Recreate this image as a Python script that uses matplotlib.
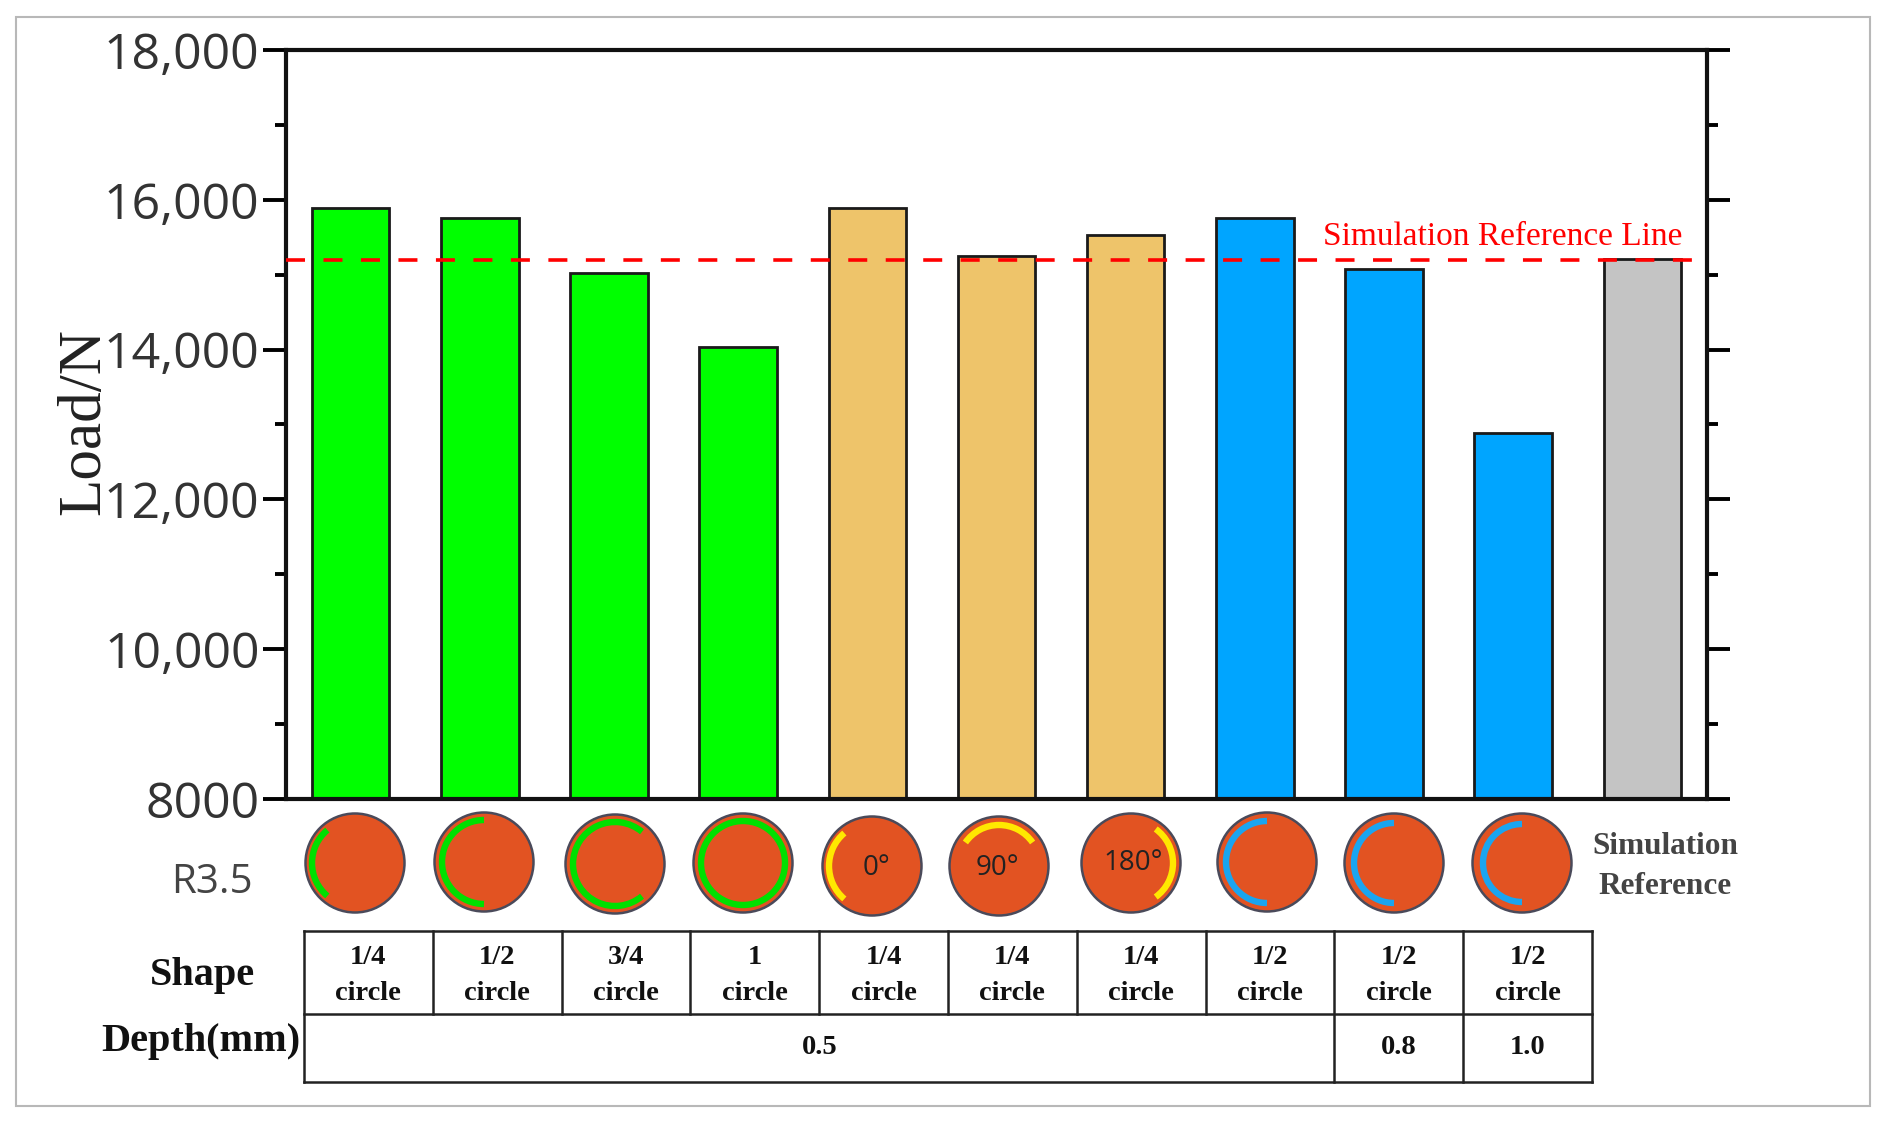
import matplotlib
matplotlib.use("Agg")
import matplotlib.pyplot as plt
from matplotlib.patches import Arc, Circle, Rectangle

# bar values
green_loads = [15890, 15760, 15025, 14035]
tan_loads = [15890, 15245, 15530]
blue_loads = [15760, 15070, 12880]
grey_loads = [15210]
loads = green_loads + tan_loads + blue_loads + grey_loads
bar_colors = ["#00FF00"] * 4 + ["#EEC46A"] * 3 + ["#00A5FF"] * 3 + ["#C4C4C4"]
reference_load = 15200

y_ticks = [8000, 10000, 12000, 14000, 16000, 18000]
y_labels = ["8000", "10,000", "12,000", "14,000", "16,000", "18,000"]
y_minor = [9000, 11000, 13000, 15000, 17000]

shape_top = ["1/4", "1/2", "3/4", "1", "1/4", "1/4", "1/4", "1/2", "1/2", "1/2"]
depths = ["0.5", "0.8", "1.0"]

# icons: centre x, centre y, arc radius, arc start, arc end, colour, label
icon_x = [355, 484, 615, 743, 872, 999, 1131, 1267, 1394, 1522]
icon_y = [863, 862, 864, 863, 866, 866, 863, 862, 863, 863]
arc_start = [130, 90, 50, 0, 130, 35, -54, 90, 90, 90]
arc_end = [230, 270, 310, 360, 230, 145, 54, 270, 270, 270]
arc_radius = [43, 42, 42, 42, 43, 41, 42, 41, 40, 39]
arc_colors = ["#00E000"] * 4 + ["#FFE800"] * 3 + ["#1AA5F0"] * 3
icon_labels = ["", "", "", "", "0°", "90°", "180°", "", "", ""]
icon_label_dx = [0, 0, 0, 0, 4, -2, 2, 0, 0, 0]
icon_label_dy = [0, 0, 0, 0, 2, 2, 0, 0, 0, 0]

W, H = 1897, 1131
SERIF = "Liberation Serif"
SANS = "Open Sans"

fig = plt.figure(figsize=(W / 100, H / 100), dpi=100, facecolor="white")

# main bar chart
ax = fig.add_axes([286 / W, 1 - 799 / H, (1707 - 286) / W, (799 - 50) / H])
ax.bar(range(len(loads)), loads, width=0.6, color=bar_colors,
       edgecolor="#1a1a1a", linewidth=2.0, zorder=2)
ax.axhline(reference_load, xmin=0, xmax=0.9895, color="#FF0000", linewidth=2.6,
           dashes=(5.26, 5.12), zorder=3)
ax.set_xlim(-0.5, 10.5)
ax.set_ylim(8000, 18000)
ax.set_xticks([])
ax.set_yticks(y_ticks)
ax.set_yticklabels(y_labels, fontfamily=SANS, fontsize=36, color="#333333")
ax.set_yticks(y_minor, minor=True)
ax.tick_params(axis="y", which="major", direction="out", length=16.5, width=2.8,
               left=True, right=True, pad=2.5)
ax.tick_params(axis="y", which="minor", direction="out", length=8, width=2.8,
               left=True, right=True)
for side in ax.spines:
    ax.spines[side].set_linewidth(3)
    ax.spines[side].set_color("#111111")

# everything below and around the axes, in pixel coordinates
over = fig.add_axes([0, 0, 1, 1], facecolor="none")
over.set_xlim(0, W)
over.set_ylim(H, 0)
over.axis("off")

over.add_patch(Rectangle((16, 17), 1854, 1089, fill=False, edgecolor="#B8B8B8", linewidth=1.5))

over.text(84, 422, "Load/N", rotation=90, ha="center", va="center",
          fontfamily=SERIF, fontsize=44, color="#222222")
over.text(1503, 237, "Simulation Reference Line", ha="center", va="center",
          fontfamily=SERIF, fontsize=24, color="#FF0000")
over.text(212, 883, "R3.5", ha="center", va="center", fontfamily=SANS,
          fontsize=29, color="#444444")

for i in range(len(icon_x)):
    over.add_patch(Circle((icon_x[i], icon_y[i]), 49.5, facecolor="#E25322",
                          edgecolor="#4A4A5A", linewidth=1.8))
    over.add_patch(Arc((icon_x[i], icon_y[i]), 2 * arc_radius[i], 2 * arc_radius[i],
                       theta1=-arc_end[i], theta2=-arc_start[i],
                       color=arc_colors[i], linewidth=4.6))
    if icon_labels[i]:
        over.text(icon_x[i] + icon_label_dx[i], icon_y[i] + icon_label_dy[i], icon_labels[i],
                  ha="center", va="center", fontfamily=SANS, fontsize=20, color="#222222")

over.text(1665, 847, "Simulation", ha="center", va="center", fontfamily=SERIF,
          fontweight="bold", fontsize=22.5, color="#444444")
over.text(1665, 887, "Reference", ha="center", va="center", fontfamily=SERIF,
          fontweight="bold", fontsize=22.5, color="#444444")

# table
left, cell = 304, 128.8
right = left + cell * len(shape_top)
top, mid, bottom = 931, 1014, 1082
table_kw = dict(color="#222222", linewidth=1.8)
for y in [top, mid, bottom]:
    over.plot([left, right], [y, y], **table_kw)
for i in range(len(shape_top) + 1):
    y_end = bottom if i in (0, 8, 9, 10) else mid
    over.plot([left + i * cell] * 2, [top, y_end], **table_kw)

cell_kw = dict(ha="center", va="center", fontfamily=SERIF, fontweight="bold", color="#111111")
for i, s in enumerate(shape_top):
    cx = left + (i + 0.5) * cell
    over.text(cx, 958, s, fontsize=20.5, **cell_kw)
    over.text(cx, 993, "circle", fontsize=20.5, **cell_kw)
over.text(left + 4 * cell, 1048, depths[0], fontsize=20.5, **cell_kw)
over.text(left + 8.5 * cell, 1048, depths[1], fontsize=20.5, **cell_kw)
over.text(left + 9.5 * cell, 1048, depths[2], fontsize=20.5, **cell_kw)

over.text(202, 975, "Shape", fontsize=29, **cell_kw)
over.text(201, 1042, "Depth(mm)", fontsize=29, **cell_kw)

fig.savefig("out.png", dpi=100)
